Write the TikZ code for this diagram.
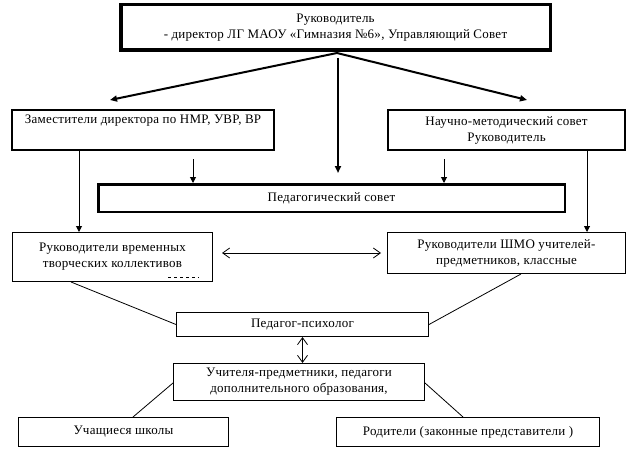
\documentclass[tikz,border=0pt]{standalone}
\usepackage{fontspec}
\setmainfont[LetterSpace=2]{Liberation Serif}
\usetikzlibrary{arrows.meta}
\begin{document}
\begin{tikzpicture}[x=1pt,y=-1pt,
  box/.style={draw=black, rectangle, inner sep=0pt, align=center, font=\fontsize{13}{16}\selectfont},
  thickarrow/.style={line width=2pt, -{Triangle[length=7pt,width=6pt]}},
  thinarrow/.style={line width=1pt, -{Triangle[length=6pt,width=6pt]}},
  dblarrow/.style={line width=0.8pt, {Straight Barb[length=7pt,width=10pt]}-{Straight Barb[length=7pt,width=10pt]}},
  link/.style={line width=0.8pt}]
\useasboundingbox (0,0) rectangle (628,457);
\fill[white] (0,0) rectangle (628,457);

% boxes
\node[box, line width=3.5pt, minimum width=429.5pt, minimum height=45.5pt] (top) at (335.5,27.5)
  {Руководитель\\- директор ЛГ МАОУ «Гимназия №6», Управляющий Совет};
\node[box, line width=2pt, minimum width=262pt, minimum height=40pt] (zam) at (143,130)
  {Заместители директора по НМР, УВР, ВР\\\strut};
\node[box, line width=2pt, minimum width=237pt, minimum height=40pt] (nauch) at (506.5,130)
  {Научно-методический совет\\Руководитель};
\node[box, line width=2.5pt, minimum width=466.5pt, minimum height=27.5pt] (pcouncil) at (331.5,198)
  {Педагогический совет};
\node[box, line width=1pt, minimum width=200pt, minimum height=49pt] (rukvr) at (112.5,257)
  {Руководители временных\\творческих коллективов};
\node[box, line width=1pt, minimum width=238pt, minimum height=41pt] (shmo) at (506.5,253)
  {Руководители ШМО учителей-\\предметников, классные};
\node[box, line width=1pt, minimum width=252pt, minimum height=24pt] (psych) at (302.5,324.5)
  {Педагог-психолог};
\node[box, line width=1pt, minimum width=251pt, minimum height=37pt] (uchit) at (299,382)
  {Учителя-предметники, педагоги\\дополнительного образования,};
\node[box, line width=1pt, minimum width=210pt, minimum height=29pt] (uchash) at (123.5,432)
  {Учащиеся школы};
\node[box, line width=1pt, minimum width=263pt, minimum height=29pt] (rodit) at (468,432)
  {Родители (законные представители )};

% small dashed mark inside rukvr
\draw[line width=0.7pt, dash pattern=on 3pt off 3pt] (168,277) -- (199,277);

% coordinates for connector ends
\coordinate (topsrc) at (337,53);
\coordinate (zamtip) at (110,100);
\coordinate (nauchtip) at (527,100);
\coordinate (midsrc) at (338,58);
\coordinate (midtip) at (338,173);
\coordinate (za) at (193,159);
\coordinate (na) at (444,159);
\coordinate (zl) at (79,151);
\coordinate (nl) at (587,151);
\coordinate (h1) at (222,253);
\coordinate (h2) at (381,253);
\coordinate (l1) at (71,282);
\coordinate (l2) at (521,274);
\coordinate (uL) at (173,383);
\coordinate (uR) at (425,383);
\coordinate (sL) at (133,417);
\coordinate (sR) at (463,417);

% connectors
\draw[thickarrow] (topsrc) -- (zamtip);
\draw[thickarrow] (topsrc) -- (nauchtip);
\draw[thickarrow] (midsrc) -- (midtip);
\draw[thinarrow] (za) -- (za |- pcouncil.north);
\draw[thinarrow] (na) -- (na |- pcouncil.north);
\draw[thinarrow] (zam.south -| zl) -- (rukvr.north -| zl);
\draw[thinarrow] (nauch.south -| nl) -- (shmo.north -| nl);
\draw[dblarrow] (h1) -- (h2);
\draw[link] (l1) -- (psych.west);
\draw[link] (l2) -- (psych.east);
\draw[dblarrow] (psych.south) -- (uchit.north -| psych.south);
\draw[link] (uL) -- (sL);
\draw[link] (uR) -- (sR);
\end{tikzpicture}
\end{document}
